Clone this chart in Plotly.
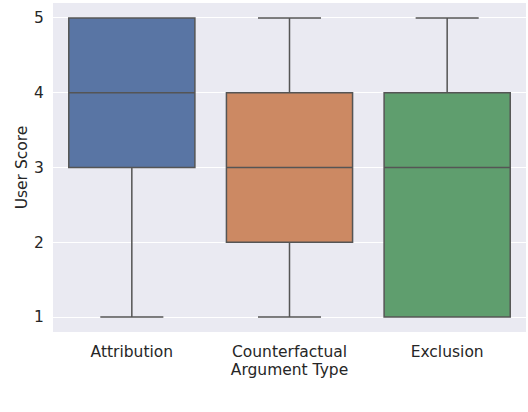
import plotly.graph_objects as go

categories = ["Attribution", "Counterfactual", "Exclusion"]
q1 = [3, 2, 1]
median = [4, 3, 3]
q3 = [5, 4, 4]
lower = [1, 1, 1]
upper = [5, 5, 5]
colors = ["#5975a4", "#cc8963", "#5f9e6e"]

fig = go.Figure()
for i, c in enumerate(categories):
    fig.add_trace(go.Box(
        x=[c], q1=[q1[i]], median=[median[i]], q3=[q3[i]],
        lowerfence=[lower[i]], upperfence=[upper[i]],
        fillcolor=colors[i], line=dict(color="#555555", width=1.5),
        width=0.8, whiskerwidth=0.5, boxpoints=False, showlegend=False,
        hoverinfo="skip",
    ))

font = dict(family="DejaVu Sans", size=15.5, color="#262626")
fig.update_layout(
    width=528, height=412,
    margin=dict(l=53, r=2, t=3, b=80),
    paper_bgcolor="white", plot_bgcolor="#EAEAF2",
    font=font, showlegend=False,
    xaxis=dict(
        type="category", range=[-0.5, 2.5], showgrid=False, zeroline=False,
        showline=False, ticks="outside", ticklen=5, tickcolor="rgba(0,0,0,0)",
        tickfont=font, automargin=False,
        title=dict(text="Argument Type", font=font, standoff=0),
    ),
    yaxis=dict(
        range=[0.8, 5.2], tickvals=[1, 2, 3, 4, 5], showgrid=True,
        gridcolor="white", gridwidth=1, zeroline=False, showline=False,
        ticks="outside", ticklen=5, tickcolor="rgba(0,0,0,0)",
        tickfont=font, automargin=False,
        title=dict(text="User Score", font=font, standoff=2),
    ),
)
fig.write_html(
    "out.html",
    config={"displayModeBar": False},
    post_script="document.body.style.margin='0';document.body.style.overflow='hidden';",
)
